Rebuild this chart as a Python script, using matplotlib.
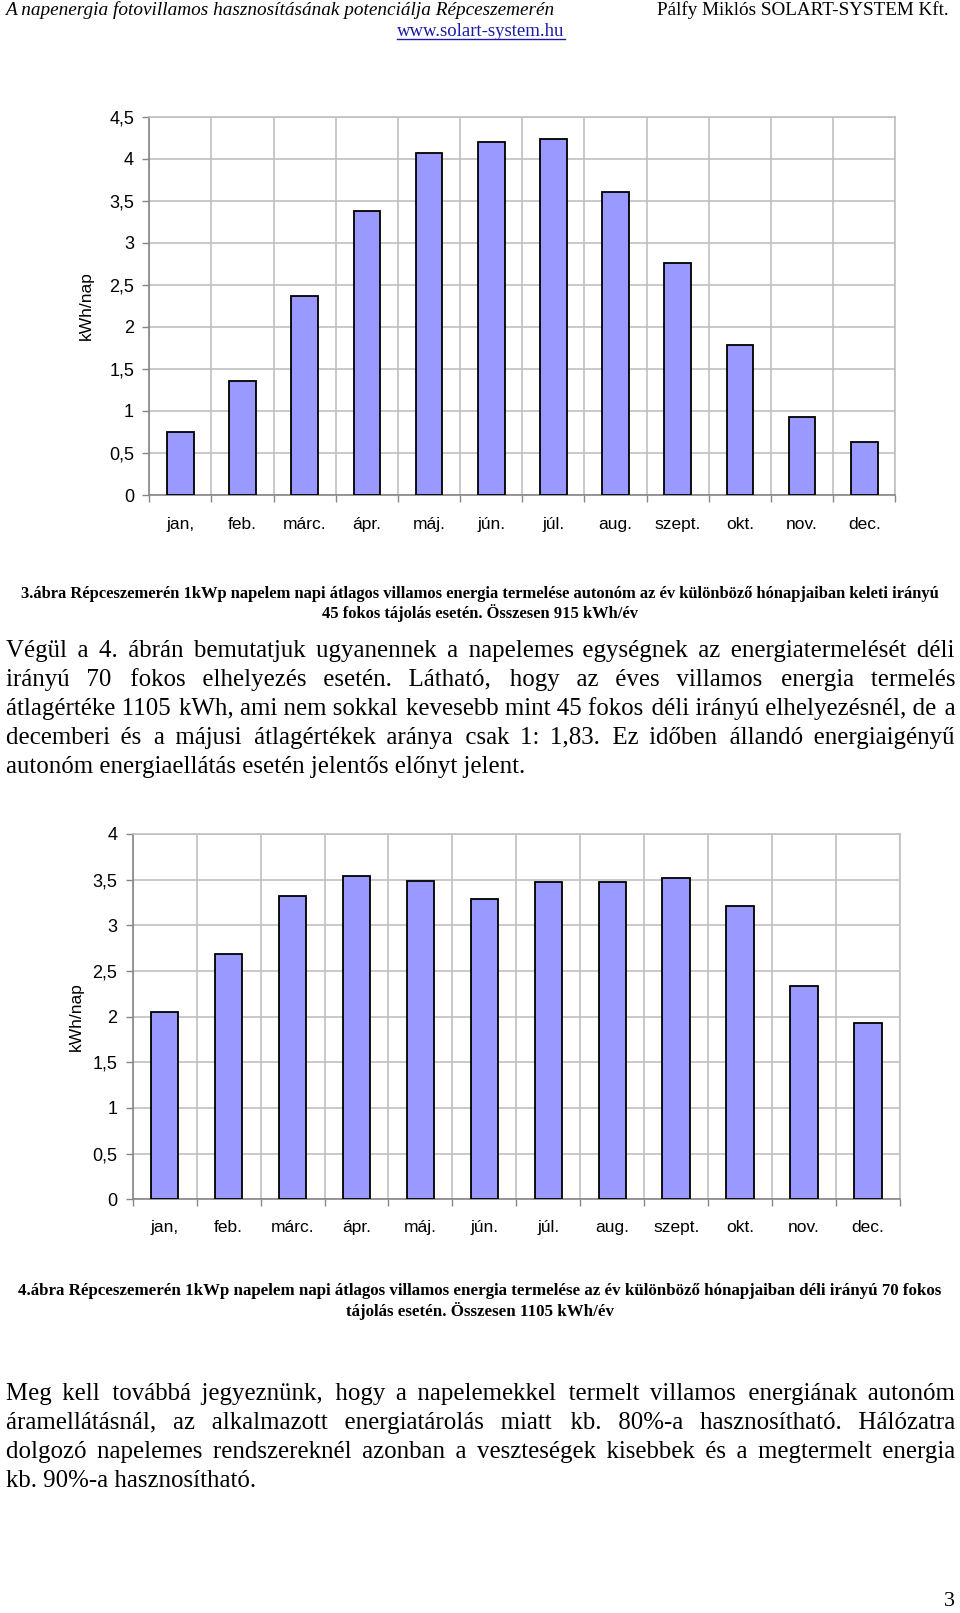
"""
Page 3 of the Répceszemerén PV study: two monthly bar charts (kWh/day)
with the captions and body text around them.
"""

import matplotlib
matplotlib.use("Agg")
import matplotlib.pyplot as plt
from matplotlib.lines import Line2D

W, H = 960, 1613

# ──────────────────────────────────────────────────────────────
# Data
# ──────────────────────────────────────────────────────────────
months = ["jan,", "feb.", "márc.", "ápr.", "máj.", "jún.",
          "júl.", "aug.", "szept.", "okt.", "nov.", "dec."]

# 3. ábra – keleti irány, 45 fok (kWh/nap)
east45 = [0.75, 1.36, 2.37, 3.38, 4.07, 4.20, 4.24, 3.60, 2.76, 1.79, 0.93, 0.63]
east45_ticks = [0, 0.5, 1, 1.5, 2, 2.5, 3, 3.5, 4, 4.5]

# 4. ábra – déli irány, 70 fok (kWh/nap)
south70 = [2.05, 2.69, 3.32, 3.54, 3.48, 3.29, 3.47, 3.47, 3.52, 3.21, 2.34, 1.93]
south70_ticks = [0, 0.5, 1, 1.5, 2, 2.5, 3, 3.5, 4]

header_left = "A napenergia fotovillamos hasznosításának potenciálja Répceszemerén"
header_right = "Pálfy Miklós SOLART-SYSTEM Kft."
header_link = "www.solart-system.hu"

caption3 = ["3.ábra Répceszemerén 1kWp napelem napi átlagos villamos energia termelése autonóm az év különböző hónapjaiban keleti irányú",
            "45 fokos tájolás esetén. Összesen 915 kWh/év"]
caption4 = ["4.ábra Répceszemerén 1kWp napelem napi átlagos villamos energia termelése az év különböző hónapjaiban déli irányú 70 fokos",
            "tájolás esetén. Összesen 1105 kWh/év"]

para1 = ["Végül a 4. ábrán bemutatjuk ugyanennek a napelemes egységnek az energiatermelését  déli",
         "irányú 70 fokos elhelyezés esetén. Látható, hogy az éves villamos energia termelés",
         "átlagértéke 1105 kWh, ami nem sokkal kevesebb mint 45 fokos déli irányú elhelyezésnél, de a",
         "decemberi és a májusi átlagértékek aránya csak 1: 1,83. Ez időben állandó energiaigényű",
         "autonóm energiaellátás esetén jelentős előnyt jelent."]
para2 = ["Meg kell továbbá jegyeznünk, hogy a napelemekkel termelt villamos energiának autonóm",
         "áramellátásnál, az alkalmazott energiatárolás miatt kb. 80%-a hasznosítható. Hálózatra",
         "dolgozó napelemes rendszereknél azonban a veszteségek kisebbek és a megtermelt energia",
         "kb. 90%-a hasznosítható."]

SERIF = "Liberation Serif"
SANS = "Liberation Sans"
BAR = "#9999ff"
GRID = "#c0c0c0"
SPINE = "#868686"
BODY_SIZE = 17.9


def fx(x):
    return x / W


def fy(y):
    return 1 - y / H


# ──────────────────────────────────────────────────────────────
# Helpers
# ──────────────────────────────────────────────────────────────

def bar_chart(fig, rect, values, ticks, ylabel_x, xpad):
    ax = fig.add_axes(rect)
    n = len(values)
    xs = list(range(n))
    ax.bar(xs, values, width=0.43, color=BAR, edgecolor="black",
           linewidth=1.3, zorder=3)
    ax.set_xlim(-0.5, n - 0.5)
    ax.set_ylim(ticks[0], ticks[-1])

    ax.set_yticks(ticks)
    ax.set_yticklabels([f"{t:g}".replace(".", ",") for t in ticks],
                       fontsize=13, family=SANS)
    ax.set_xticks(xs)
    ax.set_xticklabels(months, fontsize=12.5, family=SANS)
    ax.set_xticks([i - 0.5 for i in range(n + 1)], minor=True)

    ax.tick_params(axis="y", length=5, width=1, color=SPINE, pad=6)
    ax.tick_params(axis="x", which="major", length=0, pad=xpad)
    ax.tick_params(axis="x", which="minor", length=5, width=1, color=SPINE)

    ax.grid(True, axis="y", color=GRID, lw=1.2, zorder=0)
    ax.grid(True, axis="x", which="minor", color=GRID, lw=1.2, zorder=0)
    for side in ("top", "right"):
        ax.spines[side].set_color(GRID)
        ax.spines[side].set_linewidth(1.2)
    for side in ("left", "bottom"):
        ax.spines[side].set_color(SPINE)
        ax.spines[side].set_linewidth(1.2)

    ax.set_ylabel("kWh/nap", fontsize=12.5, family=SANS)
    ax.yaxis.set_label_coords(ylabel_x, 0.5)
    return ax


def text_width(renderer, s, size):
    w, _, _ = renderer.get_text_width_height_descent(
        s, matplotlib.font_manager.FontProperties(family=SERIF, size=size),
        ismath=False)
    return w


def justified(fig, renderer, line, y, x0=6, x1=955, size=BODY_SIZE, last=False):
    """One text per line (baseline y, pixels); gaps padded with spaces
    and hair spaces so the line fills x0..x1."""
    if not last:
        words = line.split()
        sp = text_width(renderer, "a a", size) - text_width(renderer, "aa", size)
        hs = text_width(renderer, "a\u200aa", size) - text_width(renderer, "aa", size)
        natural = sum(text_width(renderer, w, size) for w in words)
        gap = (x1 - x0 - natural) / (len(words) - 1)
        out, err = words[0], 0.0
        for w in words[1:]:
            want = gap + err
            k = max(1, int(want // sp))
            m = int(round((want - k * sp) / hs)) if hs > 0.5 else 0
            m = max(m, 0)
            err = want - (k * sp + m * hs)
            out += " " * k + "\u200a" * m + w
        line = out
    fig.text(fx(x0), fy(y), line, fontsize=size, family=SERIF,
             ha="left", va="baseline")


# ──────────────────────────────────────────────────────────────
# Page
# ──────────────────────────────────────────────────────────────

fig = plt.figure(figsize=(W / 100, H / 100), dpi=100)
fig.patch.set_facecolor("white")
renderer = fig.canvas.get_renderer()

# header
fig.text(fx(5), fy(10), header_left, fontsize=13.9, family=SERIF,
         style="italic", ha="left", va="center")
fig.text(fx(949), fy(10), header_right, fontsize=13.8, family=SERIF,
         ha="right", va="center")
link = fig.text(fx(481), fy(31), header_link, fontsize=13.5, family=SERIF,
                color="#1a1aa8", ha="center", va="center")
bb = link.get_window_extent(renderer)
fig.add_artist(Line2D([bb.x0 / W, bb.x1 / W], [(bb.y0 + 1) / H] * 2,
                      color="#1a1aa8", lw=1))

# charts
bar_chart(fig, [fx(149.3), fy(495), fx(895.3) - fx(149.3), fy(116.7) - fy(495)],
          east45, east45_ticks, -0.074, 16)
bar_chart(fig, [fx(132.7), fy(1199.3), fx(900) - fx(132.7), fy(834) - fy(1199.3)],
          south70, south70_ticks, -0.063, 15)

# captions
for i, line in enumerate(caption3):
    fig.text(fx(480), fy(594 + 19.5 * i), line, fontsize=11.85, family=SERIF,
             weight="bold", ha="center", va="center")
for i, line in enumerate(caption4):
    fig.text(fx(480), fy(1291 + 19.5 * i), line, fontsize=12.15, family=SERIF,
             weight="bold", ha="center", va="center")

# body text
for i, line in enumerate(para1):
    justified(fig, renderer, line, 657 + 29 * i, last=(i == len(para1) - 1))
for i, line in enumerate(para2):
    justified(fig, renderer, line, 1400 + 29 * i, last=(i == len(para2) - 1))

# page number
fig.text(fx(949), fy(1602), "3", fontsize=16, family=SERIF,
         ha="center", va="center")

fig.savefig("out.png", dpi=100)
